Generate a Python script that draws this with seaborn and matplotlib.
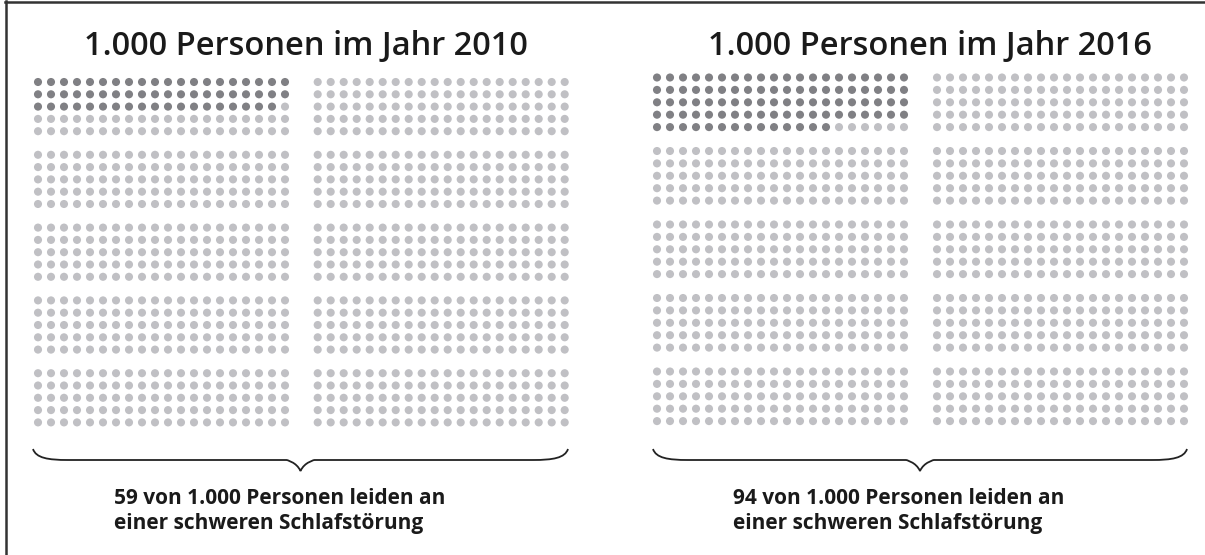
import numpy as np
import pandas as pd
import matplotlib
matplotlib.use("Agg")
import matplotlib.pyplot as plt
from matplotlib.path import Path
from matplotlib.patches import PathPatch
import seaborn as sns

# data
years = ["2010", "2016"]
affected = [59, 94]
total = 1000
titles = ["1.000 Personen im Jahr 2010", "1.000 Personen im Jahr 2016"]
captions = ["59 von 1.000 Personen leiden an\neiner schweren Schlafstörung",
            "94 von 1.000 Personen leiden an\neiner schweren Schlafstörung"]

# layout of each panel (pixel units): first dot x, y, block pitch x, y, row step
panels = [dict(x0=38, y0=82, bx=279.7, by=72.8, dx=13.0, dy=12.3, mid=306, cap_x=114),
          dict(x0=657, y0=77.5, bx=280, by=73.5, dx=13.0, dy=12.4, mid=930, cap_x=733)]

rows = []
for p, (yr, n) in enumerate(zip(years, affected)):
    lay = panels[p]
    for i in range(total):
        b, w = divmod(i, 100)
        r, c = divmod(w, 20)
        rows.append(dict(year=yr,
                         x=lay["x0"] + (b % 2) * lay["bx"] + c * lay["dx"],
                         y=lay["y0"] + (b // 2) * lay["by"] + r * lay["dy"],
                         group="schwer" if i < n else "sonst"))
df = pd.DataFrame(rows)

fig = plt.figure(figsize=(12.05, 5.55), dpi=100)
ax = fig.add_axes([0, 0, 1, 1])
sns.scatterplot(data=df, x="x", y="y", hue="group",
                palette={"schwer": "#808084", "sonst": "#c0c0c4"},
                s=34, linewidth=0, legend=False, ax=ax)
ax.set_xlim(0, 1205)
ax.set_ylim(555, 0)
ax.axis("off")

def brace(x0, x1, ytop=449, yline=460, ytip=471):
    xm = (x0 + x1) / 2
    verts = [(x0, ytop), (x0 + 3, yline - 2), (x0 + 15, yline), (x0 + 35, yline),
             (xm - 14, yline), (xm - 14, yline), (xm - 4, yline + 2), (xm, ytip),
             (xm + 4, yline + 2), (xm + 14, yline), (xm + 14, yline),
             (x1 - 35, yline), (x1 - 15, yline), (x1 - 3, yline - 2), (x1, ytop)]
    codes = [Path.MOVETO, Path.CURVE4, Path.CURVE4, Path.CURVE4,
             Path.LINETO, Path.CURVE4, Path.CURVE4, Path.CURVE4,
             Path.CURVE4, Path.CURVE4, Path.CURVE4,
             Path.LINETO, Path.CURVE4, Path.CURVE4, Path.CURVE4]
    ax.add_patch(PathPatch(Path(verts, codes), fill=False, lw=1.3, color="#222222"))

brace(33, 568)
brace(653, 1187)

for p in range(2):
    lay = panels[p]
    ax.text(lay["mid"], 46, titles[p], ha="center", va="center", fontsize=23.5,
            family="Open Sans", fontweight="semibold", color="#1a1a1a")
    ax.text(lay["cap_x"], 511, captions[p], ha="left", va="center", fontsize=15,
            family="Open Sans", fontweight="bold", color="#1a1a1a", linespacing=1.3)

# frame lines of the original scan
ax.plot([5, 1205], [1.5, 1.5], color="#333333", lw=1.8)
ax.plot([5.5, 5.5], [1, 555], color="#333333", lw=1.8)

fig.savefig("out.png", dpi=100)
